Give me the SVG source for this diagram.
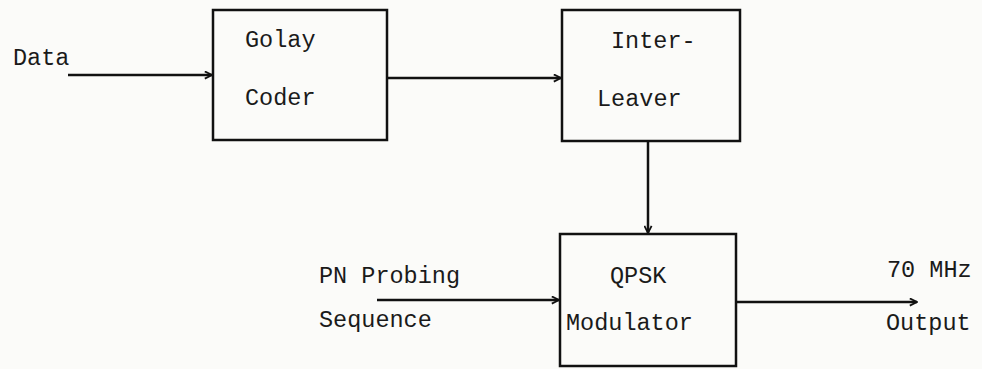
<svg xmlns="http://www.w3.org/2000/svg" width="982" height="369" viewBox="0 0 982 369">
<defs>
<style>
.box{fill:none;stroke:#111;stroke-width:2.5}
.ln{fill:none;stroke:#111;stroke-width:2.5}
text{font-family:"Liberation Mono","DejaVu Sans Mono",monospace;font-size:23.5px;fill:#1a1a1a}
</style>
<marker id="ah" viewBox="0 0 10 10" refX="9" refY="5" markerWidth="9" markerHeight="9" markerUnits="userSpaceOnUse" orient="auto">
<path d="M1,1 L9,5 L1,9" fill="none" stroke="#111" stroke-width="2"/>
</marker>
</defs>
<rect width="982" height="369" fill="#fbfbf9"/>
<g id="connectors">
<line class="ln" x1="68" y1="75" x2="212" y2="75" marker-end="url(#ah)"/>
<line class="ln" x1="387" y1="78" x2="561" y2="78" marker-end="url(#ah)"/>
<line class="ln" x1="648" y1="141" x2="648" y2="233" marker-end="url(#ah)"/>
<line class="ln" x1="377" y1="300" x2="559" y2="300" marker-end="url(#ah)"/>
<line class="ln" x1="736" y1="302" x2="917" y2="302" marker-end="url(#ah)"/>
</g>
<g id="data-label"><text x="13" y="65">Data</text></g>
<g id="golay-coder">
<rect class="box" x="213" y="10" width="174" height="130"/>
<text x="245" y="47">Golay</text>
<text x="245" y="105">Coder</text>
</g>
<g id="interleaver">
<rect class="box" x="562" y="10" width="178" height="131"/>
<text x="611" y="48">Inter-</text>
<text x="597" y="106">Leaver</text>
</g>
<g id="pn-label">
<text x="319" y="283">PN Probing</text>
<text x="319" y="327">Sequence</text>
</g>
<g id="qpsk-modulator">
<rect class="box" x="560" y="234" width="176" height="132"/>
<text x="610" y="283">QPSK</text>
<text x="566" y="330">Modulator</text>
</g>
<g id="output-label">
<text x="887" y="277">70 MHz</text>
<text x="886" y="330">Output</text>
</g>
</svg>
